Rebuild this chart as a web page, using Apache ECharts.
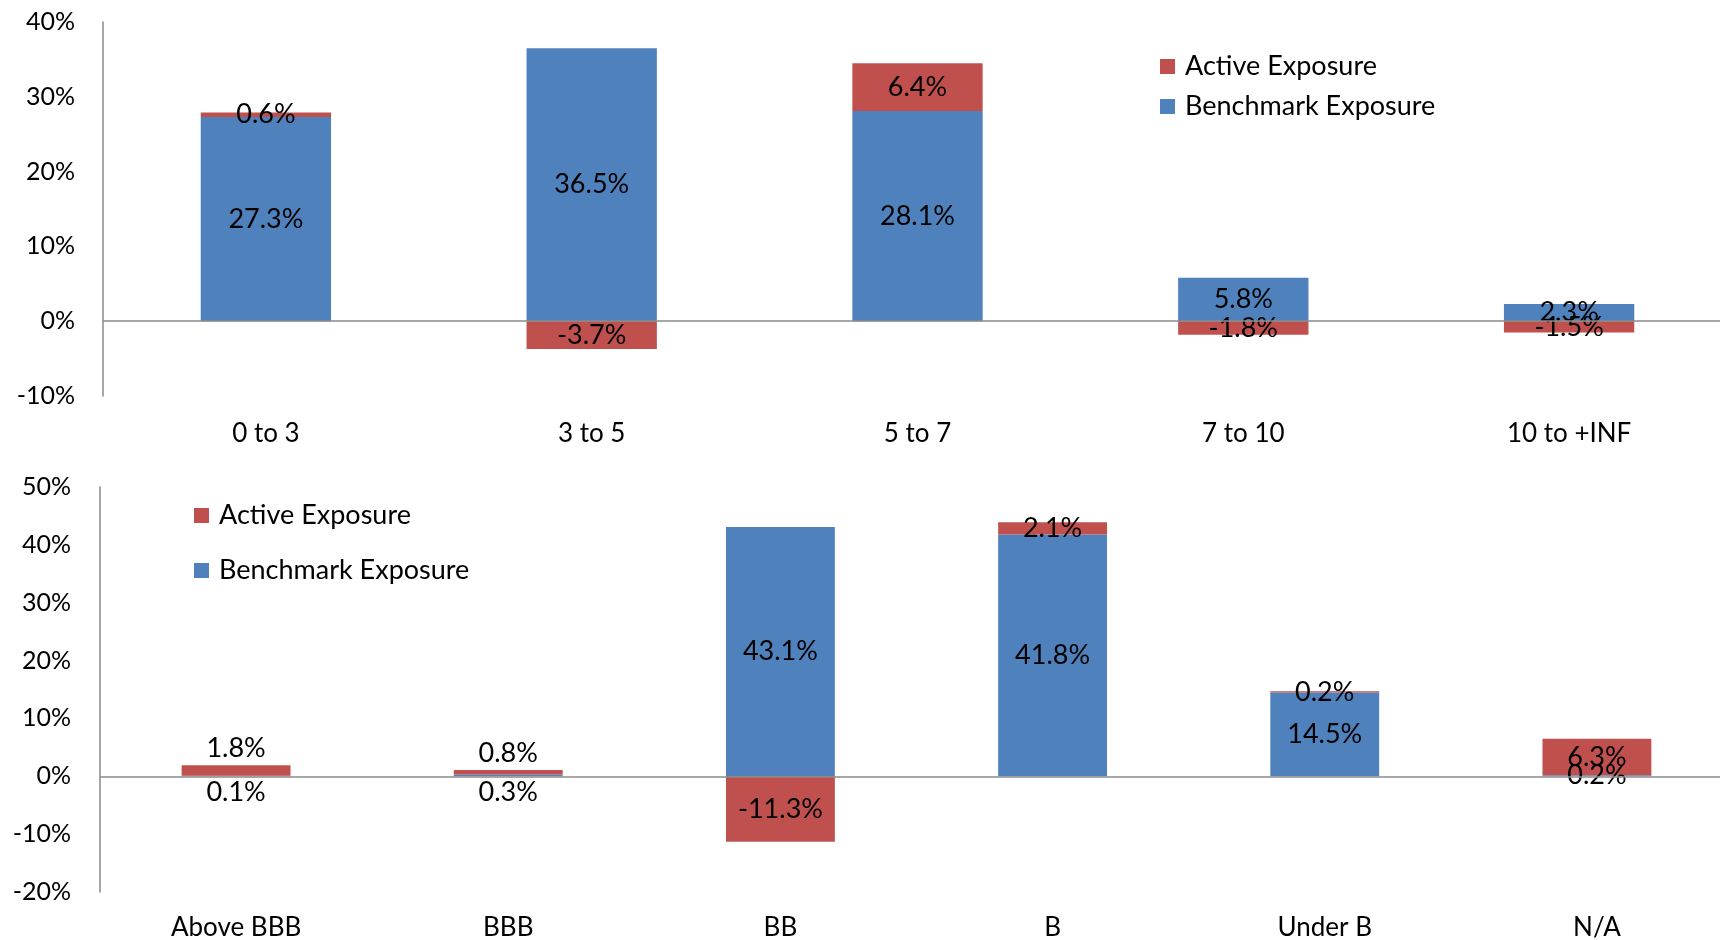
<!DOCTYPE html>
<html>
<head>
<meta charset="utf-8">
<script src="https://cdn.jsdelivr.net/npm/echarts@6/dist/echarts.min.js"></script>
<style>
html,body{margin:0;padding:0;background:#fff;}
#chart{width:1720px;height:940px;}
</style>
</head>
<body>
<div id="chart"></div>
<script>
// ---- data ----
const topCategories = ["0 to 3", "3 to 5", "5 to 7", "7 to 10", "10 to +INF"];
const topBenchmark = [27.3, 36.5, 28.1, 5.8, 2.3];
const topActive = [0.6, -3.7, 6.4, -1.8, -1.5];

const botCategories = ["Above BBB", "BBB", "BB", "B", "Under B", "N/A"];
const botBenchmark = [0.1, 0.3, 43.1, 41.8, 14.5, 0.2];
const botActive = [1.8, 0.8, -11.3, 2.1, 0.2, 6.3];

const topTicks = { min: -10, max: 40, interval: 10 };
const botTicks = { min: -20, max: 50, interval: 10 };

const seriesNames = ["Active Exposure", "Benchmark Exposure"];
// ---- styling ----
const RED = "#C0504D", BLUE = "#4F81BD", AXIS = "#8a8a8a";
const FONT = "Lato, 'Open Sans', sans-serif";
const FS_TICK = 25, FS_CAT = 26, FS_LABEL = 27, FS_LEGEND = 27;
// categories whose labels sit outside the tiny bars
const outsideCats = ["Above BBB", "BBB"];

const chart = echarts.init(document.getElementById("chart"), null, { renderer: "canvas" });

function fmt(p) { return p.value.toFixed(1) + "%"; }

function items(cats, vals, outsidePos) {
  return vals.map((v, i) => {
    if (outsidePos && outsideCats.indexOf(cats[i]) >= 0) {
      return { value: v, label: { position: outsidePos, distance: 3 } };
    }
    return v;
  });
}

const labelStyle = { show: true, position: "inside", formatter: fmt, color: "#000", fontFamily: FONT, fontSize: FS_LABEL };
const zeroLine = {
  silent: true, symbol: "none", label: { show: false },
  lineStyle: { color: AXIS, width: 1.5, type: "solid" },
  data: [{ yAxis: 0 }], animation: false
};

function yAx(gi, t, margin) {
  return {
    type: "value", gridIndex: gi, min: t.min, max: t.max, interval: t.interval,
    axisLine: { show: true, lineStyle: { color: AXIS, width: 1.5 } },
    axisTick: { show: false }, splitLine: { show: false },
    axisLabel: { formatter: "{value}%", color: "#000", fontFamily: FONT, fontSize: FS_TICK, margin: margin }
  };
}
function xAx(gi, cats, margin) {
  return {
    type: "category", gridIndex: gi, data: cats,
    axisLine: { show: false, onZero: false }, axisTick: { show: false },
    axisLabel: { color: "#000", fontFamily: FONT, fontSize: FS_CAT, margin: margin, interval: 0 }
  };
}
function leg(left, top, gap) {
  return {
    data: seriesNames, orient: "vertical", left: left, top: top,
    itemWidth: 15, itemHeight: 15, itemGap: gap, icon: "rect",
    textStyle: { color: "#000", fontFamily: FONT, fontSize: FS_LEGEND, padding: [0, 0, 0, 5] }
  };
}

const option = {
  animation: false,
  backgroundColor: "#fff",
  textStyle: { fontFamily: FONT },
  grid: [
    { left: 103, top: 22, height: 374, width: 1629, containLabel: false, outerBoundsMode: "none" },
    { left: 100, top: 487, height: 405, width: 1633, containLabel: false, outerBoundsMode: "none" }
  ],
  xAxis: [xAx(0, topCategories, 25), xAx(1, botCategories, 23)],
  yAxis: [yAx(0, topTicks, 28), yAx(1, botTicks, 29)],
  legend: [leg(1155, 48, 13), leg(189, 497, 28)],
  series: [
    {
      name: seriesNames[1], type: "bar", xAxisIndex: 0, yAxisIndex: 0, stack: "top",
      barWidth: "40%", itemStyle: { color: BLUE }, label: labelStyle,
      data: items(topCategories, topBenchmark, null), markLine: zeroLine, z: 2
    },
    {
      name: seriesNames[0], type: "bar", xAxisIndex: 0, yAxisIndex: 0, stack: "top",
      barWidth: "40%", itemStyle: { color: RED }, label: labelStyle,
      data: items(topCategories, topActive, null), z: 2
    },
    {
      name: seriesNames[1], type: "bar", xAxisIndex: 1, yAxisIndex: 1, stack: "bot",
      barWidth: "40%", itemStyle: { color: BLUE }, label: labelStyle,
      data: items(botCategories, botBenchmark, "bottom"), markLine: zeroLine, z: 2
    },
    {
      name: seriesNames[0], type: "bar", xAxisIndex: 1, yAxisIndex: 1, stack: "bot",
      barWidth: "40%", itemStyle: { color: RED }, label: labelStyle,
      data: items(botCategories, botActive, "top"), z: 2
    }
  ]
};
chart.setOption(option);
</script>
</body>
</html>
